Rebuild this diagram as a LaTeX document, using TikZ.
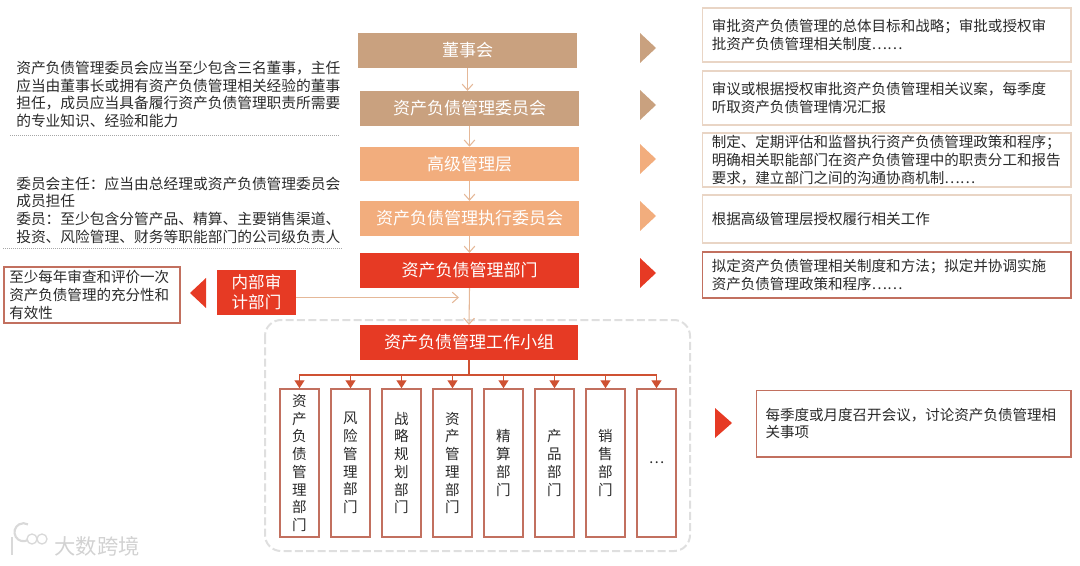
\documentclass[tikz,border=0pt]{standalone}
\usepackage{xcolor}
\usepackage{fontspec}
\setmainfont{Noto Sans CJK SC}
\usepackage{tikz}
\usetikzlibrary{arrows.meta, positioning}
\definecolor{almtan}{HTML}{C9A17F}
\definecolor{almorange}{HTML}{F2AD7D}
\definecolor{almred}{HTML}{E63A24}
\definecolor{almline}{HTML}{E5B898}
\definecolor{almedge}{HTML}{E9D5C5}
\definecolor{almrededge}{HTML}{C2705F}
\definecolor{almbus}{HTML}{CF5132}
\definecolor{almink}{HTML}{2A2A2A}

\begin{document}
\begin{tikzpicture}[
    x=0.75pt, y=-0.75pt,
    tier/.style={fill=#1, text=white, inner sep=0pt, minimum width=164pt, minimum height=26pt,
                 font=\fontsize{12.75pt}{15pt}\selectfont},
    dutybox/.style={draw=#1, line width=1pt, fill=white, text=almink, inner sep=0pt, align=left,
                    minimum width=276.5pt, text width=262pt, font=\fontsize{10.9pt}{13.3pt}\selectfont},
    note/.style={anchor=west, inner sep=0pt, align=left, text=almink,
                 font=\fontsize{11.05pt}{13.3pt}\selectfont},
    deptbox/.style={draw=almrededge, line width=1.1pt, fill=white, text=almink, inner sep=0pt, align=center,
                    minimum width=29pt, minimum height=111pt,
                    font=\fontsize{10.9pt}{13.3pt}\selectfont},
    flow/.style={almline, line width=0.8pt, -{Straight Barb[length=4.5pt, width=8pt]}},
    bus/.style={almbus, line width=1pt, -{Triangle[length=6pt, width=7.5pt]}},
]
    \useasboundingbox (0,0) rectangle (1080,566);

    % working group frame
    \draw[gray!25, line width=1.5pt, dash pattern=on 6pt off 2.5pt, rounded corners=12pt]
        (265,320) rectangle (690,551);

    % governance tiers
    \node[tier=almtan] (board) at (467.5,50.5) {董事会};
    \node[tier=almtan] (committee) at (469.5,108.5) {资产负债管理委员会};
    \node[tier=almorange, minimum height=25.5pt] (senior) at (469.5,164) {高级管理层};
    \node[tier=almorange] (exec) at (469.5,218.5) {资产负债管理执行委员会};
    \node[tier=almred] (almdept) at (469.5,270.5) {资产负债管理部门};
    \node[tier=almred, minimum width=163.5pt] (group) at (469,342.5) {资产负债管理工作小组};

    \draw[flow] (board) -- (board |- committee.north);
    \draw[flow] (committee) -- (senior);
    \draw[flow] (senior) -- (exec);
    \draw[flow] (exec) -- (almdept);
    \draw[flow] (almdept.south) -- (group.north);

    % audit
    \node[fill=almred, text=white, inner sep=0pt, minimum width=59pt, minimum height=34pt, align=center,
          font=\fontsize{12.4pt}{15pt}\selectfont] (audit) at (256.5,292.5) {内部审\\计部门};
    \node[draw=almrededge, line width=1pt, fill=white, text=almink, inner sep=0pt, align=left,
          minimum width=132pt, minimum height=42pt, text width=124pt,
          font=\fontsize{10.9pt}{13.3pt}\selectfont] (auditnote) at (92,295)
          {至少每年审查和评价一次\\资产负债管理的充分性和\\有效性};
    \coordinate (auditend) at (459,297.5);
    \draw[flow] (audit.east |- auditend) -- (auditend);
    \fill[almred] (206,278) -- (190,293) -- (206,308) -- cycle;

    % left notes
    \node[note] (membernote) at (16,94.5) {资产负债管理委员会应当至少包含三名董事，主任\\应当由董事长或拥有资产负债管理相关经验的董事\\担任，成员应当具备履行资产负债管理职责所需要\\的专业知识、经验和能力};
    \node[note] (chairnote) at (16,210) {委员会主任：应当由总经理或资产负债管理委员会\\成员担任\\委员：至少包含分管产品、精算、主要销售渠道、\\投资、风险管理、财务等职能部门的公司级负责人};
    \draw[gray!70, densely dotted, line width=0.5pt] (10,135) -- (340,135);
    \draw[gray!70, densely dotted, line width=0.5pt] (3,248) -- (343,248);

    % triangles towards the duties
    \foreach \yy/\col in {48/almtan, 105/almtan, 159/almorange, 216/almorange, 273/almred}
        \fill[\col] (640,\yy-15) -- (656,\yy) -- (640,\yy+15) -- cycle;
    \fill[almred] (715,408) -- (732,423) -- (715,438) -- cycle;

    % duties
    \node[dutybox=almedge, minimum height=40.5pt] (duty1) at (886.5,35) {审批资产负债管理的总体目标和战略；审批或授权审\\批资产负债管理相关制度……};
    \node[dutybox=almedge, minimum height=40.5pt] (duty2) at (886.5,98) {审议或根据授权审批资产负债管理相关议案，每季度\\听取资产负债管理情况汇报};
    \node[dutybox=almedge, minimum height=40.5pt] (duty3) at (886.5,160) {制定、定期评估和监督执行资产负债管理政策和程序；\\明确相关职能部门在资产负债管理中的职责分工和报告\\要求，建立部门之间的沟通协商机制……};
    \node[dutybox=almedge, minimum height=36pt] (duty4) at (886.5,219) {根据高级管理层授权履行相关工作};
    \node[dutybox=almrededge, minimum height=34.5pt] (duty5) at (886.5,275) {拟定资产负债管理相关制度和方法；拟定并协调实施\\资产负债管理政策和程序……};
    \node[dutybox=almrededge, minimum width=236pt, text width=222pt, minimum height=50pt] (duty6) at (913.5,423.5) {每季度或月度召开会议，讨论资产负债管理相\\关事项};

    % departments
    \foreach \i/\xx/\txt in {
        1/299.5/{资\\产\\负\\债\\管\\理\\部\\门},
        2/350.5/{风\\险\\管\\理\\部\\门},
        3/401.5/{战\\略\\规\\划\\部\\门},
        4/452.5/{资\\产\\管\\理\\部\\门},
        5/503.5/{精\\算\\部\\门},
        6/554.5/{产\\品\\部\\门},
        7/605.5/{销\\售\\部\\门},
        8/656.5/{…}} {
        \node[deptbox] (dept\i) at (\xx,463) {\txt};
        \draw[bus] (group.south) -- ++(0,15) -| (dept\i.north);
    }

    % watermark
    \draw[gray!30, line width=1.6pt] (12,537) -- (12,555);
    \draw[gray!30, line width=1.6pt] (28,540) arc (60:300:9);
    \draw[gray!30, line width=1pt] (32,539) circle (5);
    \draw[gray!30, line width=1pt] (42,539) circle (5);
    \node[text=gray!35, inner sep=0pt, font=\fontsize{16pt}{18pt}\selectfont] (mark) at (97,546) {大数跨境};
\end{tikzpicture}
\end{document}
